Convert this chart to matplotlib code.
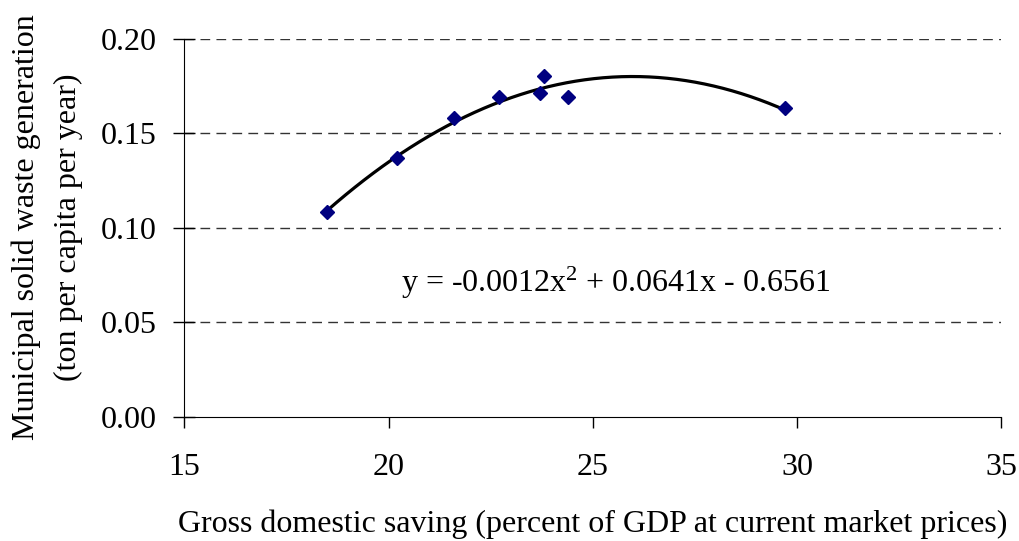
import numpy as np
import matplotlib
matplotlib.use('Agg')
import matplotlib.pyplot as plt

# Daten
gds = [18.5, 20.2, 21.6, 22.7, 23.7, 23.8, 24.4, 29.7]
msw = [0.108, 0.137, 0.158, 0.169, 0.171, 0.180, 0.169, 0.163]
eq_text = 'y = -0.0012x$^{2}$ + 0.0641x - 0.6561'

plt.rcParams['font.family'] = ['Liberation Serif']
plt.rcParams['mathtext.fontset'] = 'custom'
plt.rcParams['mathtext.rm'] = 'Liberation Serif'
plt.rcParams['mathtext.default'] = 'regular'

fs = 23

fig = plt.figure(figsize=(10.2, 5.41), dpi=100)
ax = fig.add_axes([0.1807, 0.2298, 0.801, 0.699])

# Gitterlinien
for g in [0.05, 0.10, 0.15, 0.20]:
    ax.axhline(g, color='#333333', linewidth=1.0, linestyle=(0, (7, 4.5)), zorder=1)

# Trendlinie (polynomisch, 2. Ordnung)
coef = np.polyfit(gds, msw, 2)
xs = np.linspace(min(gds), max(gds), 200)
ax.plot(xs, np.polyval(coef, xs), color='black', linewidth=2.3, zorder=2)

ax.plot(gds, msw, linestyle='none', marker='D', markersize=7,
        color='#000080', zorder=3)

ax.text(20.3, 0.0705, eq_text, fontsize=fs, ha='left', va='center')

ax.set_xlim(15, 35)
ax.set_ylim(0, 0.20)
ax.set_xticks([15, 20, 25, 30, 35])
ax.set_yticks([0.0, 0.05, 0.10, 0.15, 0.20])
ax.set_yticklabels(['0.00', '0.05', '0.10', '0.15', '0.20'])

ax.spines['top'].set_visible(False)
ax.spines['right'].set_visible(False)
ax.tick_params(axis='x', direction='out', length=8, width=1, labelsize=fs, pad=18)
ax.tick_params(axis='y', direction='inout', length=16, width=1, labelsize=fs, pad=12)

ax.set_xlabel('Gross domestic saving (percent of GDP at current market prices)',
              fontsize=fs, labelpad=20)
ax.set_ylabel('Municipal solid waste generation\n(ton per capita per year)',
              fontsize=fs, linespacing=1.6)
ax.yaxis.set_label_coords(-0.124, 0.5)

fig.savefig('out.png', dpi=100)
